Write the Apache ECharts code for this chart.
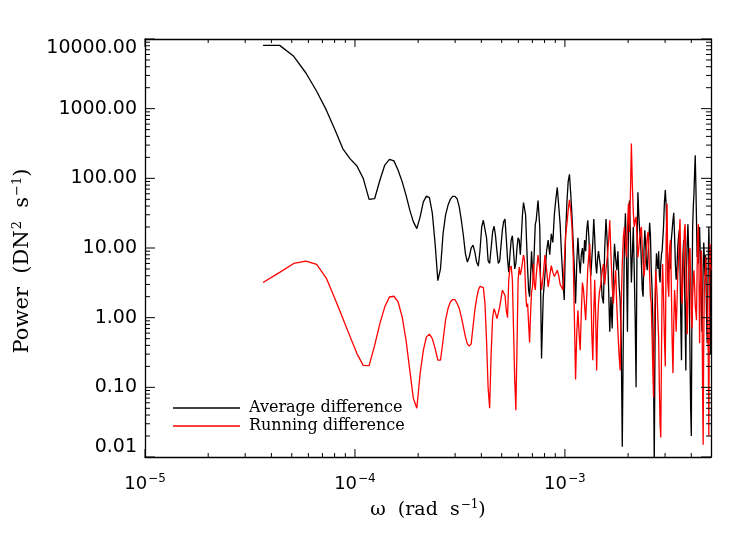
<!DOCTYPE html>
<html><head><meta charset="utf-8">
<script src="https://cdn.jsdelivr.net/npm/echarts@6/dist/echarts.min.js"></script>
<style>html,body{margin:0;padding:0;background:#fff}#c{width:747px;height:534px}</style>
</head><body><div id="c"></div>
<script>
// frequency resolution (rad/s) and frequency-index grid segments [from, to, step]
const DOMEGA = 7.3e-6;
const kSegments = [[5, 99, 1], [100, 198, 2], [200, 398, 3], [400, 680, 4]];
const XMIN = 1e-5;
const XMAX = 680 * DOMEGA;
const YMIN = 0.01;
const YMAX = 10000;
const xMajorExp = [-5, -4, -3];
const yMajorExp = [-2, -1, 0, 1, 2, 3, 4];

// Average difference power (DN^2 s^-1)
const avgPowerA = [8100, 8100, 5650, 3250, 1780, 960, 500, 265, 190, 150,
  100, 50, 51, 94, 155, 187, 178, 131, 89, 57,
  35, 23.7, 19, 28, 46, 55.5, 53, 31.7, 11.5, 3.4,
  5, 16, 29.6, 41, 50, 55, 55, 51, 39, 25,
  15, 8.3, 6.3, 7.4, 10, 11, 8.8, 6.3, 5.5, 9.3,
  20, 25, 23.7, 14, 6.6, 6, 10, 17, 20.5, 15,
  9, 6, 6.5, 11, 18, 24, 26, 14, 7, 4.5,
  8, 13, 15, 9, 5, 6, 10, 14, 13, 8,
  15, 30, 45, 48, 30, 12, 5, 2.5, 2, 4,
  9, 5, 4, 10, 22];
const avgPowerB = [25, 48, 20, 0.26, 2, 4, 9, 13, 8, 16,
  12, 30, 50, 74, 40, 22, 8, 3.5, 1.8, 15,
  45, 90, 114, 60, 30, 12, 5, 1.6, 6, 14,
  7, 4.3, 8, 10, 6, 13, 9, 18, 25, 15,
  7, 4, 3.9, 12, 26, 14, 6, 4.3, 7, 9];
const avgPowerC = [9.3, 5, 2, 1.6, 10, 26, 12, 3, 0.63, 2,
  0.7, 4, 11.5, 7, 4.8, 9, 3, 1.8, 0.5, 0.014,
  0.6, 12, 31.6, 8, 0.63, 20, 48, 15, 3.2, 8,
  20, 4.8, 1, 0.1, 10, 63, 30, 18, 13, 6,
  2.5, 2, 9, 18, 12, 6, 4.8, 8, 14, 23,
  15, 5, 2.8, 1, 0.2, 0.008, 0.4, 4, 8.4, 6,
  5, 9, 4, 3.2, 6, 8, 9.3];
const avgPowerD = [9.3, 20, 45, 68, 40, 10, 3.2, 6, 9, 5,
  13, 18, 25, 32, 15, 6, 3.5, 5, 10, 14,
  18, 6, 1, 0.245, 3, 8, 13, 4, 1, 0.175,
  5, 12, 22, 10, 2, 0.3, 0.05, 0.02, 2, 20,
  39, 60, 120, 215, 80, 25, 7.4, 12, 6, 15,
  20, 9, 4, 1.5, 0.63, 2, 5, 12, 7.4, 4,
  8, 3, 1, 0.43, 2, 6, 20, 8, 11, 0.3,
  5];

// Running difference power (DN^2 s^-1)
const runPowerA = [3.19, 4.47, 6.0, 6.5, 5.8, 3.7, 1.87, 0.97, 0.53, 0.305,
  0.207, 0.205, 0.40, 0.82, 1.43, 1.98, 2.03, 1.68, 1.02, 0.47,
  0.175, 0.069, 0.05, 0.158, 0.34, 0.53, 0.58, 0.50, 0.36, 0.245,
  0.245, 0.47, 0.92, 1.35, 1.68, 1.82, 1.82, 1.6, 1.35, 1.02,
  0.74, 0.53, 0.42, 0.39, 0.42, 0.74, 1.28, 1.88, 2.48, 2.82,
  3.0, 2.7, 1.6, 0.47, 0.1, 0.05, 0.305, 1.0, 1.35, 1.16,
  0.97, 1.16, 1.43, 1.88, 2.48, 2.6, 2.1, 1.28, 1.0, 3.5,
  5.1, 5.5, 3.5, 0.66, 0.13, 0.047, 0.38, 3.5, 5.3, 4.1,
  4.8, 6.3, 7.9, 6.6, 2.5, 1.43, 1.6, 0.82, 0.44, 1.16,
  2.3, 2.75, 6, 3, 2.5];
const runPowerB = [4, 7.9, 5, 2.5, 4, 7.9, 5, 2.75, 4, 5.6,
  4.5, 3.9, 4.3, 4.8, 4, 3, 2.75, 2.5, 6, 15,
  22, 35, 49, 35, 20, 7.4, 1, 0.13, 0.6, 1.28,
  0.6, 0.34, 1.2, 3.2, 2.5, 1.5, 0.92, 2, 5, 8,
  11.5, 3, 0.6, 0.245, 1.2, 3.5, 1, 0.175, 0.8, 1.6];
const runPowerC = [2.3, 3, 4.5, 5.9, 3, 5, 7.4, 12, 25, 8,
  3, 1.6, 3, 4.8, 1.5, 0.63, 0.3, 0.175, 1.5, 6,
  14, 20, 12, 7.4, 20, 43.6, 17, 60, 316, 80,
  33, 20, 25, 28, 15, 7.4, 10, 14, 18, 20,
  10, 6, 3.9, 3.9, 7, 10, 14, 17, 9, 4,
  2, 1.6, 0.6, 0.2, 0.072, 0.5, 2, 4.8, 3, 2,
  0.9, 0.5, 0.1, 0.03, 0.019, 0.3, 3];
const runPowerD = [5.9, 2, 0.5, 0.2, 15, 43, 3, 2, 10, 13,
  3, 0.5, 0.16, 0.8, 2.5, 1.5, 0.63, 1.5, 4, 6,
  15, 26, 6, 2, 1.6, 4, 10, 18, 22, 6,
  1.5, 0.58, 2, 5, 8, 10, 3, 1, 0.7, 2,
  3.5, 4.8, 3, 1.5, 1.2, 0.92, 5, 15, 22, 5,
  0.43, 2, 5, 9.3, 2, 0.1, 0.015, 0.5, 2.5, 3.9,
  5, 7.4, 3, 1.5, 0.63, 0.3, 0.02, 2, 11.5, 6,
  4.8];

const seriesNames = ['Average difference', 'Running difference'];
const seriesColors = ['#000000', '#ff0000'];

function buildK() {
  const ks = [];
  for (const [a, b, s] of kSegments) for (let k = a; k <= b; k += s) ks.push(k);
  return ks;
}
const K = buildK();
function pairs(power) {
  const n = Math.min(K.length, power.length);
  const out = [];
  for (let i = 0; i < n; i++) out.push([K[i] * DOMEGA, power[i]]);
  return out;
}
const avgData = pairs(avgPowerA.concat(avgPowerB, avgPowerC, avgPowerD));
const runData = pairs(runPowerA.concat(runPowerB, runPowerC, runPowerD));

// layout
const W = 747, H = 534;
const GRID = {left: 145, right: 36, top: 39, bottom: 77};

// tick marks (IDL style, inside, on all four sides) as short segments in data space
const pxPerDecX = (W - GRID.left - GRID.right) / (Math.log10(XMAX) - Math.log10(XMIN));
const pxPerDecY = (H - GRID.top - GRID.bottom) / (Math.log10(YMAX) - Math.log10(YMIN));
const tickSegs = [];
function xTick(v, len) {
  const f = Math.pow(10, len / pxPerDecY);
  tickSegs.push([v, YMIN], [v, YMIN * f], null, [v, YMAX], [v, YMAX / f], null);
}
function yTick(v, len) {
  const f = Math.pow(10, len / pxPerDecX);
  tickSegs.push([XMIN, v], [XMIN * f, v], null, [XMAX, v], [XMAX / f, v], null);
}
for (const e of xMajorExp) {
  const d = Math.pow(10, e);
  xTick(d, 8);
  for (let m = 2; m <= 9; m++) if (m * d < XMAX) xTick(m * d, 4);
}
for (const e of yMajorExp) {
  const d = Math.pow(10, e);
  yTick(d, 10);
  if (e < 4) for (let m = 2; m <= 9; m++) yTick(m * d, 5);
}

const FONT = 'DejaVu Sans';
const SERIF = 'DejaVu Serif';
const chart = echarts.init(document.getElementById('c'));
function xFmt(v) {
  const e = Math.log10(v);
  if (Math.abs(e - Math.round(e)) > 1e-6) return '';
  return '{b|10}{s|\u2212' + Math.abs(Math.round(e)) + '}';
}
function frameAxis(type, pos, min, max) {
  return {
    type: 'log', logBase: 10, min: min, max: max, position: pos,
    axisLine: {show: true, lineStyle: {color: '#000', width: 1.3}},
    axisTick: {show: false},
    axisLabel: {show: false},
    splitLine: {show: false}
  };
}
const xBottom = frameAxis('x', 'bottom', XMIN, XMAX);
xBottom.axisLabel = {
  show: true, formatter: xFmt, margin: 16, showMaxLabel: false, color: '#000',
  rich: {
    b: {fontSize: 18, fontFamily: FONT, color: '#000'},
    s: {fontSize: 12, fontFamily: FONT, color: '#000', verticalAlign: 'bottom', padding: [0, 0, 10, 1]}
  }
};
xBottom.name = '{a|\u03c9  (rad  s}{s|\u22121}{a|)}';
xBottom.nameLocation = 'middle';
xBottom.nameGap = 42;
xBottom.nameTextStyle = {
  rich: {
    a: {fontSize: 19, fontFamily: SERIF, color: '#000'},
    s: {fontSize: 12, fontFamily: SERIF, color: '#000', verticalAlign: 'bottom', padding: [0, 0, 10, 1]}
  }
};
const yLeft = frameAxis('y', 'left', YMIN, YMAX);
yLeft.axisLabel = {
  show: true, formatter: v => Number(v).toFixed(2), margin: 8, color: '#000',
  fontFamily: FONT, fontSize: 19,
  verticalAlignMaxLabel: 'top', verticalAlignMinLabel: 'bottom'
};
yLeft.name = '{a|Power  (DN}{s|2}{a|  s}{s|\u22121}{a|)}';
yLeft.nameLocation = 'middle';
yLeft.nameGap = 110;
yLeft.nameTextStyle = {
  padding: [0, 26, 0, 0],
  rich: {
    a: {fontSize: 21, fontFamily: SERIF, color: '#000'},
    s: {fontSize: 13, fontFamily: SERIF, color: '#000', verticalAlign: 'bottom', padding: [0, 0, 11, 1]}
  }
};

chart.setOption({
  animation: false,
  grid: GRID,
  xAxis: [xBottom, frameAxis('x', 'top', XMIN, XMAX)],
  yAxis: [yLeft, frameAxis('y', 'right', YMIN, YMAX)],
  legend: {
    left: 173, top: 399, padding: 0, orient: 'vertical', itemWidth: 67, itemHeight: 1.5, itemGap: 0,
    icon: 'rect',
    data: seriesNames,
    textStyle: {fontFamily: SERIF, fontSize: 16, lineHeight: 18, color: '#000', padding: [0, 0, 0, 4]}
  },
  series: [{
    name: seriesNames[0], type: 'line', data: avgData, symbol: 'none', showSymbol: false,
    lineStyle: {color: seriesColors[0], width: 1.3}, itemStyle: {color: seriesColors[0]}, z: 2
  }, {
    name: seriesNames[1], type: 'line', data: runData, symbol: 'none', showSymbol: false,
    lineStyle: {color: seriesColors[1], width: 1.3}, itemStyle: {color: seriesColors[1]}, z: 3
  }, {
    name: 'axis ticks', type: 'line', data: tickSegs, symbol: 'none', showSymbol: false,
    connectNulls: false, silent: true, clip: false, legendHoverLink: false,
    lineStyle: {color: '#000', width: 1}, itemStyle: {color: '#000'}, z: 5
  }]
});
</script>
</body></html>
